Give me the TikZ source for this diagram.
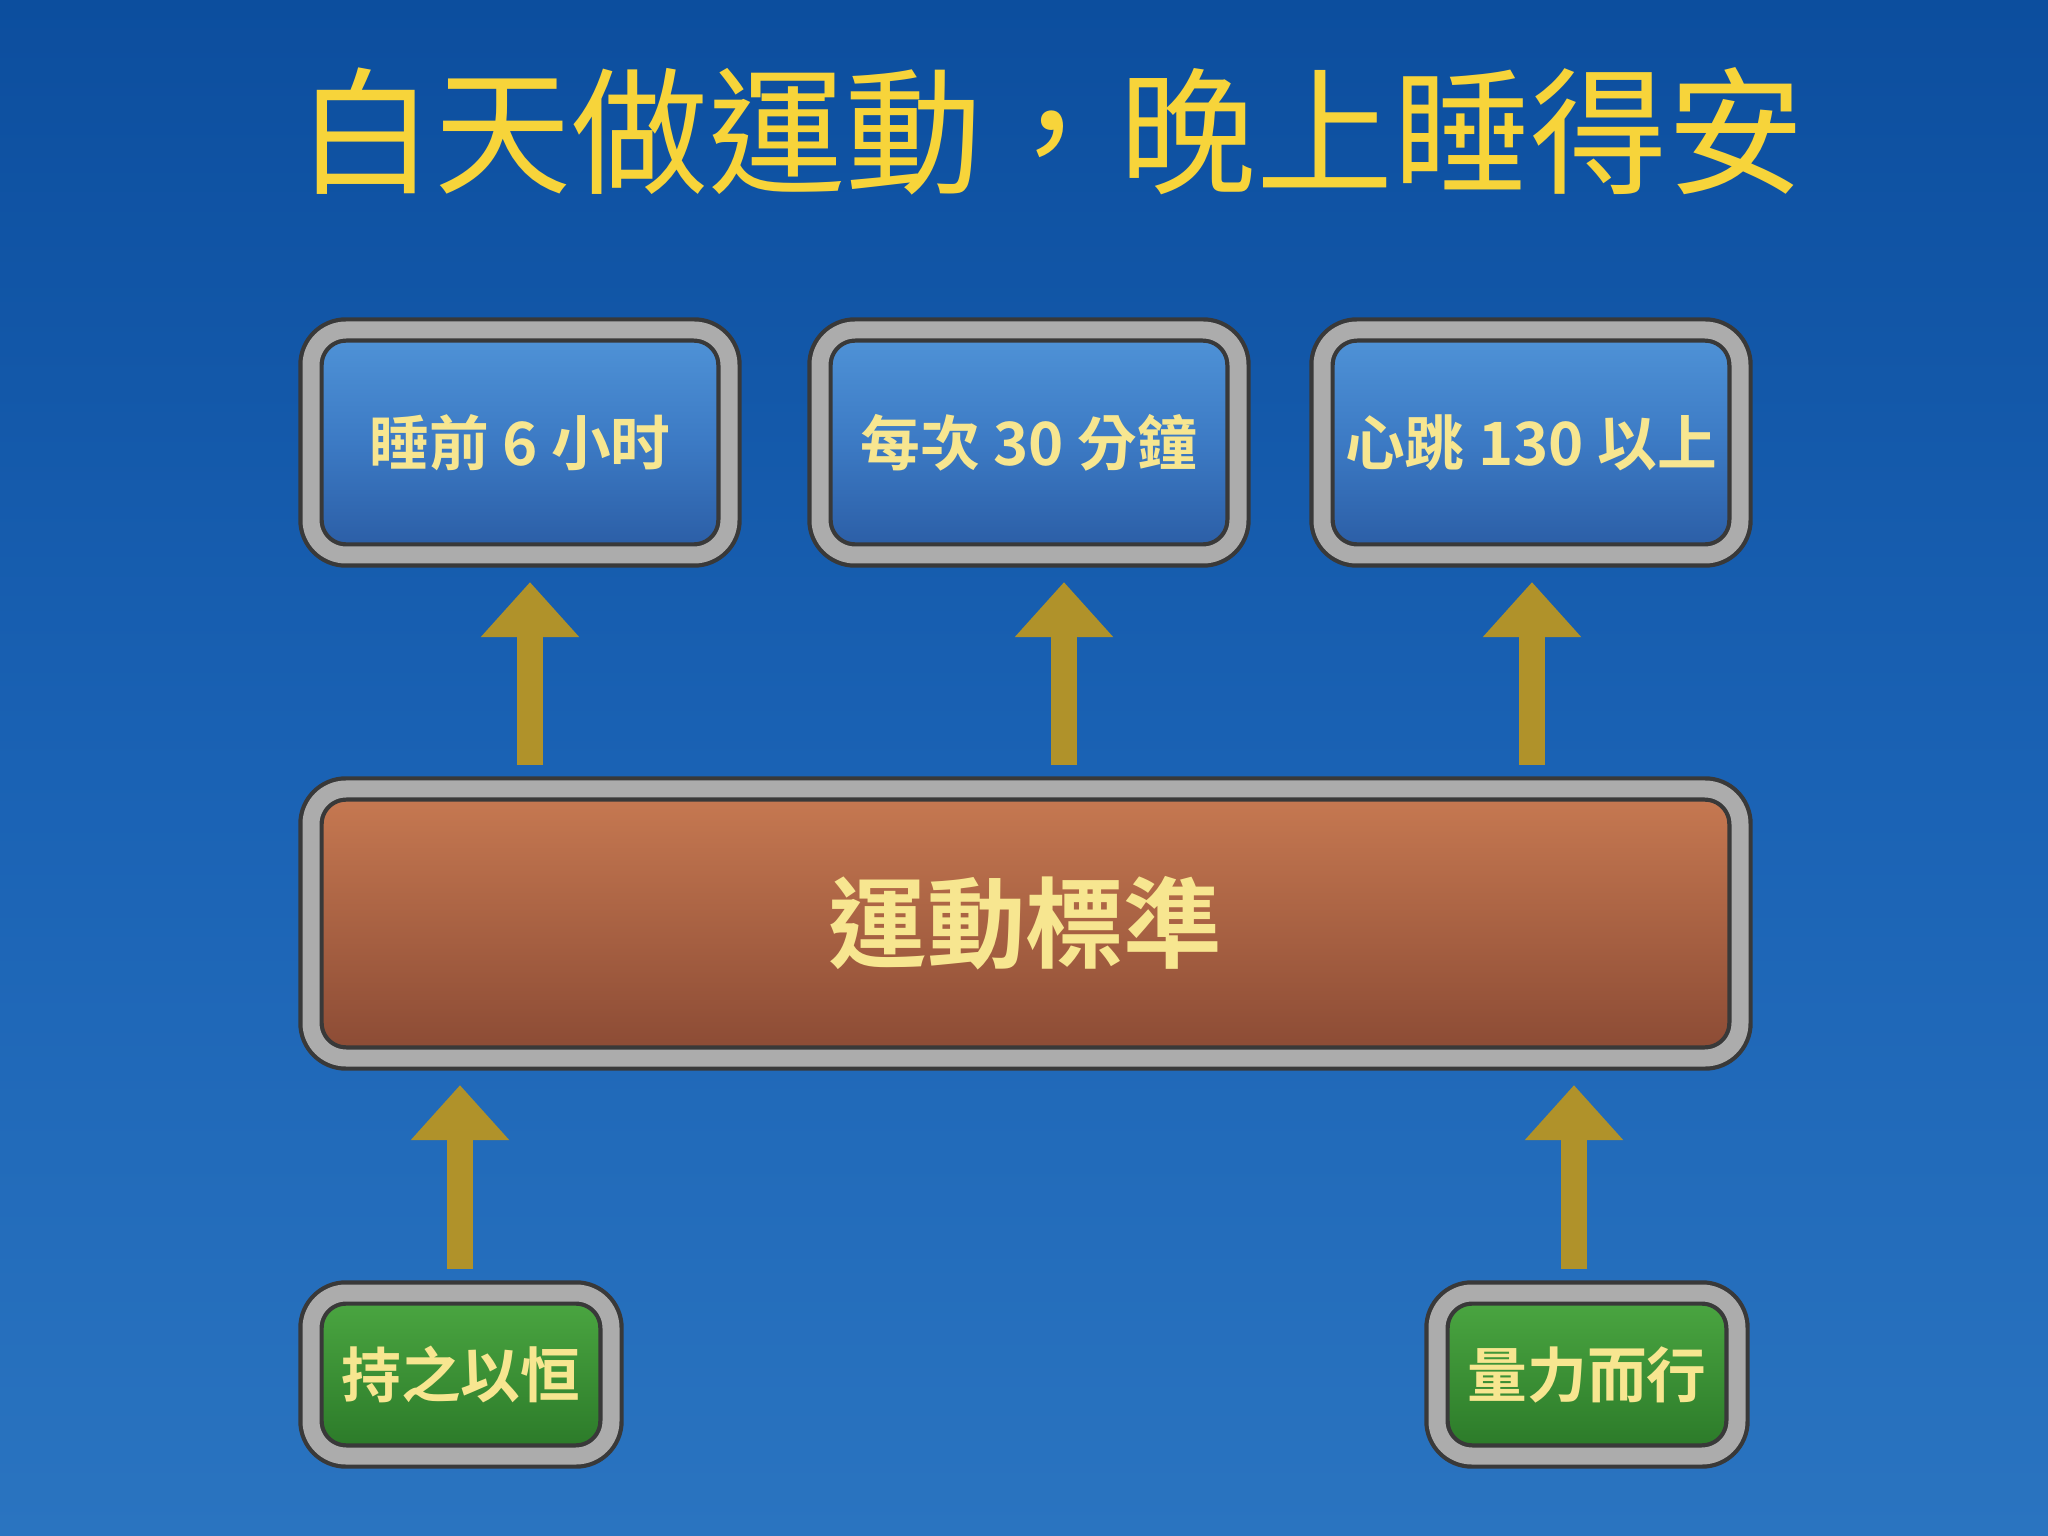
\documentclass[tikz,border=0pt]{standalone}
\usepackage{fontspec}
\newfontfamily\cjk{Noto Sans CJK TC}
\newfontfamily\cjkb{Noto Sans CJK TC Bold}
\usetikzlibrary{arrows.meta,shadings}
\definecolor{bgA}{HTML}{0C4E9E}
\definecolor{bgM}{HTML}{1A62B4}
\definecolor{bgB}{HTML}{2A74C0}
\definecolor{ttl}{HTML}{F7D43A}
\definecolor{txt}{HTML}{F7E690}
\definecolor{gld}{HTML}{B0922A}
\definecolor{blT}{HTML}{5094D8}
\definecolor{blM}{HTML}{3C7AC4}
\definecolor{blB}{HTML}{2A5CA4}
\definecolor{rdT}{HTML}{C87A52}
\definecolor{rdB}{HTML}{8A4A34}
\definecolor{grT}{HTML}{4CA842}
\definecolor{grB}{HTML}{2A7828}
\tikzset{
 frame/.style={rounded corners=0.35cm, draw=gray!45!black, double=gray!65, double distance=0.17cm, line width=1.2pt},
 bluebox/.style={frame, top color=blT, bottom color=blB, middle color=blM,
   minimum width=4.18cm, minimum height=2.25cm, font=\cjkb\fontsize{17}{20}\selectfont, text=txt},
 redbox/.style={frame, top color=rdT, bottom color=rdB, minimum width=14.29cm, minimum height=2.69cm,
   font=\cjkb\fontsize{28}{32}\selectfont, text=txt},
 greenbox/.style={frame, top color=grT, bottom color=grB, minimum width=3.0cm, minimum height=1.63cm,
   font=\cjkb\fontsize{17}{20}\selectfont, text=txt},
 uparrow/.style={draw=gld, line width=0.26cm, -{Triangle[width=0.95cm,length=0.55cm]}, shorten <=0.22cm, shorten >=0.25cm},
}
\begin{document}
\begin{tikzpicture}
\useasboundingbox (0,0) rectangle (20.48,-15.36);
\shade[top color=bgA, bottom color=bgB, middle color=bgM] (0,0) rectangle (20.48,-15.36);
\node[font=\cjk\fontsize{39}{44}\selectfont, text=ttl] (title) at (10.51,-1.31) {白天做運動，晚上睡得安};
\node[bluebox] (b1) at (5.20,-4.425) {睡前 6 小时};
\node[bluebox] (b2) at (10.29,-4.425) {每次 30 分鐘};
\node[bluebox] (b3) at (15.31,-4.425) {心跳 130 以上};
\node[redbox] (m) at (10.255,-9.235) {運動標準};
\node[greenbox] (g1) at (4.61,-13.745) {持之以恒};
\node[greenbox] (g2) at (15.87,-13.745) {量力而行};
\coordinate (a1) at (5.30,0); \coordinate (a2) at (10.64,0); \coordinate (a3) at (15.32,0);
\coordinate (c1) at (4.60,0); \coordinate (c2) at (15.74,0);
\draw[uparrow] (m.north -| a1) -- (b1.south -| a1);
\draw[uparrow] (m.north -| a2) -- (b2.south -| a2);
\draw[uparrow] (m.north -| a3) -- (b3.south -| a3);
\draw[uparrow] (g1.north -| c1) -- (m.south -| c1);
\draw[uparrow] (g2.north -| c2) -- (m.south -| c2);
\end{tikzpicture}
\end{document}
